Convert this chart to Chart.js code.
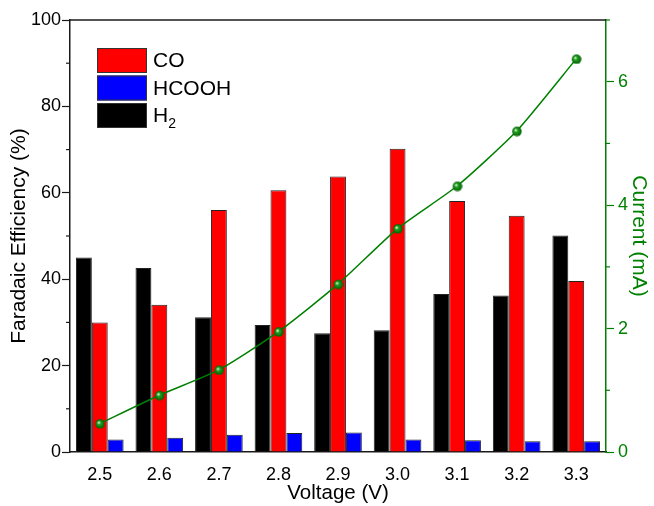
<!DOCTYPE html>
<html>
<head>
<meta charset="utf-8">
<script src="https://cdn.jsdelivr.net/npm/chart.js@4"></script>
<style>
  html, body { margin: 0; padding: 0; background: #fff; }
  #wrap { width: 654px; height: 506px; position: relative; }
</style>
</head>
<body>
<div id="wrap"><canvas id="chart"></canvas></div>
<script>
// data
const voltages = ["2.5", "2.6", "2.7", "2.8", "2.9", "3.0", "3.1", "3.2", "3.3"];
const feH2 = [45.0, 42.6, 31.2, 29.4, 27.5, 28.2, 36.6, 36.2, 50.1];
const feCO = [30.0, 34.1, 56.0, 60.6, 63.8, 70.2, 58.1, 54.7, 39.6];
const feHCOOH = [2.9, 3.3, 4.0, 4.4, 4.5, 2.9, 2.7, 2.5, 2.5];
const current = [0.46, 0.92, 1.33, 1.95, 2.72, 3.62, 4.31, 5.2, 6.37];
const legendOrder = ["CO", "HCOOH", "H2"];

const GREEN = "#008000";
const FONT = "'Liberation Sans', Arial, sans-serif";

// shaded green ball for the current markers
function makeBall(r) {
  const c = document.createElement("canvas");
  c.width = c.height = r * 2 + 2;
  const g = c.getContext("2d");
  const cx = r + 1;
  const grad = g.createRadialGradient(cx - r * 0.3, cx - r * 0.3, 0.5, cx, cx, r);
  grad.addColorStop(0, "#d8f5d8");
  grad.addColorStop(0.3, "#22a022");
  grad.addColorStop(1, "#006000");
  g.fillStyle = grad;
  g.beginPath();
  g.arc(cx, cx, r, 0, Math.PI * 2);
  g.fill();
  return c;
}
const ball = makeBall(4.8);

// minor ticks, top frame line and the legend inside the plot
const extras = {
  id: "extras",
  afterDraw(chart) {
    const { ctx, chartArea: a, scales } = chart;
    ctx.save();
    ctx.lineWidth = 1.5;
    ctx.strokeStyle = "#1a1a1a";
    ctx.beginPath();
    ctx.moveTo(a.left - 0.75, a.top);
    ctx.lineTo(a.right, a.top);
    ctx.stroke();

    ctx.lineWidth = 1.2;
    for (let v = 10; v < 100; v += 20) {
      const y = scales.y.getPixelForValue(v);
      ctx.beginPath();
      ctx.moveTo(a.left - 4, y);
      ctx.lineTo(a.left, y);
      ctx.stroke();
    }
    ctx.strokeStyle = GREEN;
    for (let v = 1; v <= 7; v += 2) {
      const y = scales.y1.getPixelForValue(v);
      ctx.beginPath();
      ctx.moveTo(a.right, y);
      ctx.lineTo(a.right + 4, y);
      ctx.stroke();
    }

    // legend
    const x0 = 97, bw = 50, bh = 25, gap = 2.5;
    legendOrder.forEach((name, i) => {
      const ds = chart.data.datasets.find(d => d.label === name);
      const y = 48 + i * (bh + gap);
      ctx.fillStyle = ds.backgroundColor;
      ctx.fillRect(x0, y, bw, bh);
      ctx.strokeStyle = "#333";
      ctx.lineWidth = 1;
      ctx.strokeRect(x0 + 0.5, y + 0.5, bw - 1, bh - 1);
      ctx.fillStyle = "#000";
      ctx.font = "21px " + FONT;
      ctx.textBaseline = "middle";
      ctx.textAlign = "left";
      const m = name.match(/^(\D+)(\d+)$/);
      if (m) {
        ctx.fillText(m[1], x0 + 56, y + bh / 2 + 1);
        const w = ctx.measureText(m[1]).width;
        ctx.font = "14px " + FONT;
        ctx.fillText(m[2], x0 + 56 + w, y + bh / 2 + 9);
      } else {
        ctx.fillText(name, x0 + 56, y + bh / 2 + 1);
      }
    });
    ctx.restore();
  }
};

new Chart(document.getElementById("chart"), {
  data: {
    labels: voltages,
    datasets: [
      { type: "bar", label: "H2", data: feH2, backgroundColor: "#000000", borderColor: "#222", borderWidth: 1, yAxisID: "y", order: 1 },
      { type: "bar", label: "CO", data: feCO, backgroundColor: "#ff0000", borderColor: "#222", borderWidth: 1, yAxisID: "y", order: 1 },
      { type: "bar", label: "HCOOH", data: feHCOOH, backgroundColor: "#0000ff", borderColor: "#222", borderWidth: 1, yAxisID: "y", order: 1 },
      {
        type: "line",
        label: "Current",
        data: current,
        yAxisID: "y1",
        order: 0,
        borderColor: GREEN,
        borderWidth: 1.5,
        tension: 0.2,
        pointStyle: ball,
        pointRadius: 5
      }
    ]
  },
  options: {
    responsive: true,
    maintainAspectRatio: false,
    animation: false,
    layout: { padding: { top: 20, left: 0, right: 0, bottom: 0 } },
    datasets: { bar: { categoryPercentage: 0.8, barPercentage: 1.0 } },
    plugins: { legend: { display: false }, tooltip: { enabled: false } },
    scales: {
      x: {
        afterFit: s => { s.height = 54; },
        grid: { display: false },
        border: { color: "#1a1a1a", width: 1.5 },
        ticks: { color: "#000", font: { family: FONT, size: 18 }, padding: 4 },
        title: { display: true, text: "Voltage (V)", color: "#000", font: { family: FONT, size: 20.5 }, padding: { top: 1.5, bottom: 0 } }
      },
      y: {
        position: "left",
        min: 0,
        max: 100,
        afterFit: s => { s.width = 70; },
        grid: {
          drawOnChartArea: false,
          tickLength: 8,
          tickWidth: 1.2,
          tickColor: c => (c.tick && c.tick.value % 20 === 0 ? "#1a1a1a" : "rgba(0,0,0,0)")
        },
        border: { color: "#1a1a1a", width: 1.5 },
        ticks: {
          stepSize: 10,
          autoSkip: false,
          padding: 1,
          color: "#000",
          font: { family: FONT, size: 18 },
          callback: v => (v % 20 === 0 ? v : "")
        },
        title: { display: true, text: "Faradaic Efficiency (%)", color: "#000", font: { family: FONT, size: 21 }, padding: { top: 6.4, bottom: 0 } }
      },
      y1: {
        position: "right",
        min: 0,
        max: 7,
        afterFit: s => { s.width = 48; },
        grid: {
          drawOnChartArea: false,
          tickLength: 8,
          tickWidth: 1.2,
          tickColor: c => (c.tick && c.tick.value % 2 === 0 ? GREEN : "rgba(0,0,0,0)")
        },
        border: { color: GREEN, width: 1.5 },
        ticks: {
          stepSize: 1,
          autoSkip: false,
          padding: 4,
          color: GREEN,
          font: { family: FONT, size: 18 },
          callback: v => (v % 2 === 0 ? v : "")
        },
        title: { display: true, text: "Current (mA)", color: GREEN, font: { family: FONT, size: 21 }, padding: { top: 3, bottom: 0 } }
      }
    }
  },
  plugins: [extras]
});
</script>
</body>
</html>
